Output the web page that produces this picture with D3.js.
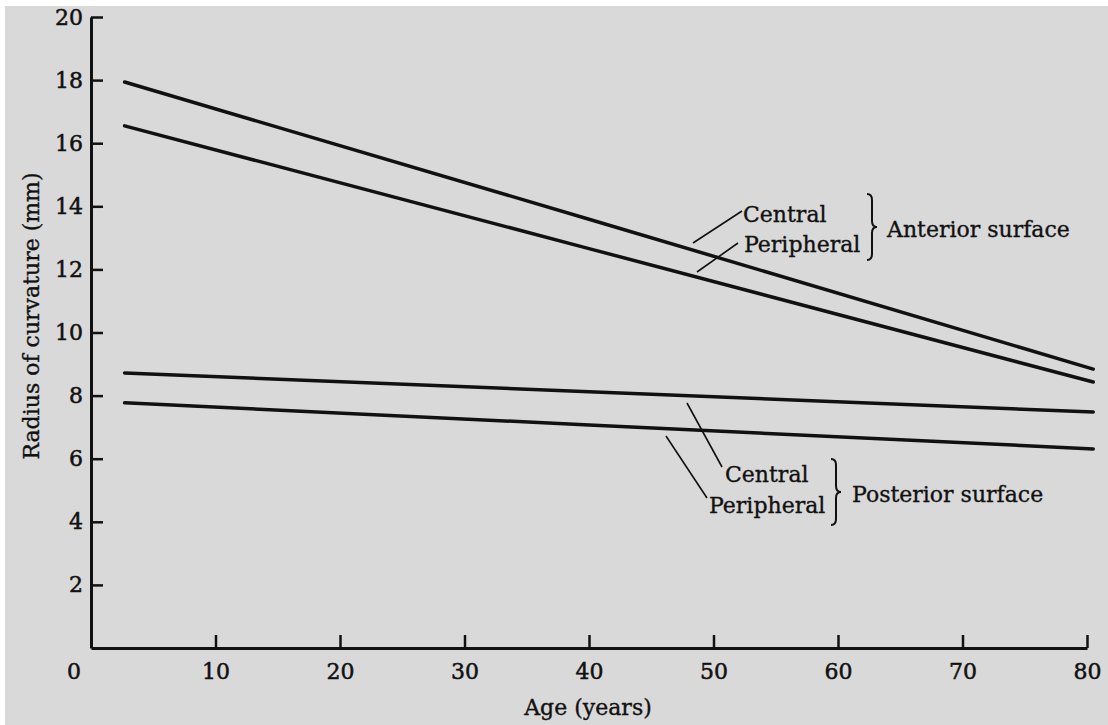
<!DOCTYPE html>
<html>
<head>
<meta charset="utf-8">
<script src="https://cdn.jsdelivr.net/npm/d3@7"></script>
<style>
  body { margin: 0; background: #ffffff; }
  text { font-family: "DejaVu Serif", "Liberation Serif", serif; fill: #111; stroke: #111; stroke-width: 0.35px; }
</style>
</head>
<body>
<svg id="chart" width="1108" height="725"></svg>
<script>
// ages, radius (mm)
const ages = [2.7, 40, 80.5];
const anteriorCentral = [17.94, 13.59, 8.84];
const anteriorPeripheral = [16.55, 12.66, 8.43];
const posteriorCentral = [8.72, 8.12, 7.48];
const posteriorPeripheral = [7.77, 7.07, 6.31];

const xTicks = [10, 20, 30, 40, 50, 60, 70, 80];
const yTicks = [2, 4, 6, 8, 10, 12, 14, 16, 18, 20];

const drawChart = function (svg) {
    // scanned page background
    svg.append("rect")
        .attr("x", 5).attr("y", 6)
        .attr("width", 1103).attr("height", 719)
        .style("fill", "#d9d9d9");

    let xScale = d3.scaleLinear().domain([0, 80]).range([91, 1087]);
    let yScale = d3.scaleLinear().domain([0, 20]).range([648, 17]);

    let bottomAxis = d3.axisBottom(xScale)
        .tickValues(xTicks)
        .tickSize(-13)
        .tickSizeOuter(0)
        .tickPadding(15)
        .tickFormat(d3.format("d"));

    let leftAxis = d3.axisLeft(yScale)
        .tickValues(yTicks)
        .tickSize(-12)
        .tickSizeOuter(0)
        .tickPadding(8)
        .tickFormat(d3.format("d"));

    let gx = svg.append("g")
        .attr("transform", `translate(0, ${yScale(0)})`)
        .call(bottomAxis);
    let gy = svg.append("g")
        .attr("transform", `translate(${xScale(0)}, 0)`)
        .call(leftAxis);

    [gx, gy].forEach(g => {
        g.select(".domain").style("stroke", "#111").style("stroke-width", 3);
        g.selectAll(".tick line").style("stroke", "#111").style("stroke-width", 2.5);
        g.selectAll(".tick text")
            .style("font-family", "'DejaVu Serif', serif")
            .style("font-size", "22px")
            .style("fill", "#111")
            .style("stroke", "#111")
            .style("stroke-width", 0.5);
    });

    // shared origin label
    svg.append("text")
        .attr("x", xScale(0) - 17)
        .attr("y", yScale(0) + 31)
        .attr("text-anchor", "middle")
        .style("font-size", "22px")
        .style("stroke-width", 0.5)
        .text("0");

    // the four curves
    let line = d3.line()
        .x(d => xScale(d[0]))
        .y(d => yScale(d[1]));

    [anteriorCentral, anteriorPeripheral, posteriorCentral, posteriorPeripheral].forEach(series => {
        svg.append("path")
            .datum(ages.map((a, i) => [a, series[i]]))
            .attr("d", line)
            .style("fill", "none")
            .style("stroke", "#111")
            .style("stroke-width", 3.5)
            .style("stroke-linecap", "round");
    });

    // axis titles
    svg.append("text")
        .attr("x", (xScale(0) + xScale(80)) / 2 - 1)
        .attr("y", 715)
        .attr("text-anchor", "middle")
        .style("font-size", "22px")
        .text("Age (years)");

    svg.append("text")
        .attr("transform", "translate(39, 316) rotate(-90)")
        .attr("text-anchor", "middle")
        .style("font-size", "22px")
        .text("Radius of curvature (mm)");

    // annotations
    const brace = function (x, y1, y2, w) {
        let ym = (y1 + y2) / 2, h = w / 2, r = 6;
        return `M${x},${y1} Q${x + h},${y1} ${x + h},${y1 + r} L${x + h},${ym - r} ` +
               `Q${x + h},${ym} ${x + w},${ym} Q${x + h},${ym} ${x + h},${ym + r} ` +
               `L${x + h},${y2 - r} Q${x + h},${y2} ${x},${y2}`;
    };

    const addLabel = function (x, y, txt) {
        svg.append("text").attr("x", x).attr("y", y)
            .style("font-size", "22px").text(txt);
    };
    const addLeader = function (x1, y1, x2, y2) {
        svg.append("line")
            .attr("x1", x1).attr("y1", y1).attr("x2", x2).attr("y2", y2)
            .style("stroke", "#111").style("stroke-width", 1.6);
    };

    addLabel(743, 222, "Central");
    addLabel(744, 252, "Peripheral");
    addLabel(887, 237, "Anterior surface");
    addLeader(693, 243, 742, 211);
    addLeader(697, 272, 738, 243);
    svg.append("path").attr("d", brace(867, 194, 260, 10))
        .style("fill", "none").style("stroke", "#111").style("stroke-width", 2);

    addLabel(725, 482, "Central");
    addLabel(709, 513, "Peripheral");
    addLabel(852, 502, "Posterior surface");
    addLeader(687, 403, 722, 467);
    addLeader(666, 436, 707, 498);
    svg.append("path").attr("d", brace(831, 459, 525, 10))
        .style("fill", "none").style("stroke", "#111").style("stroke-width", 2);
};

drawChart(d3.select("svg#chart"));
</script>
</body>
</html>
